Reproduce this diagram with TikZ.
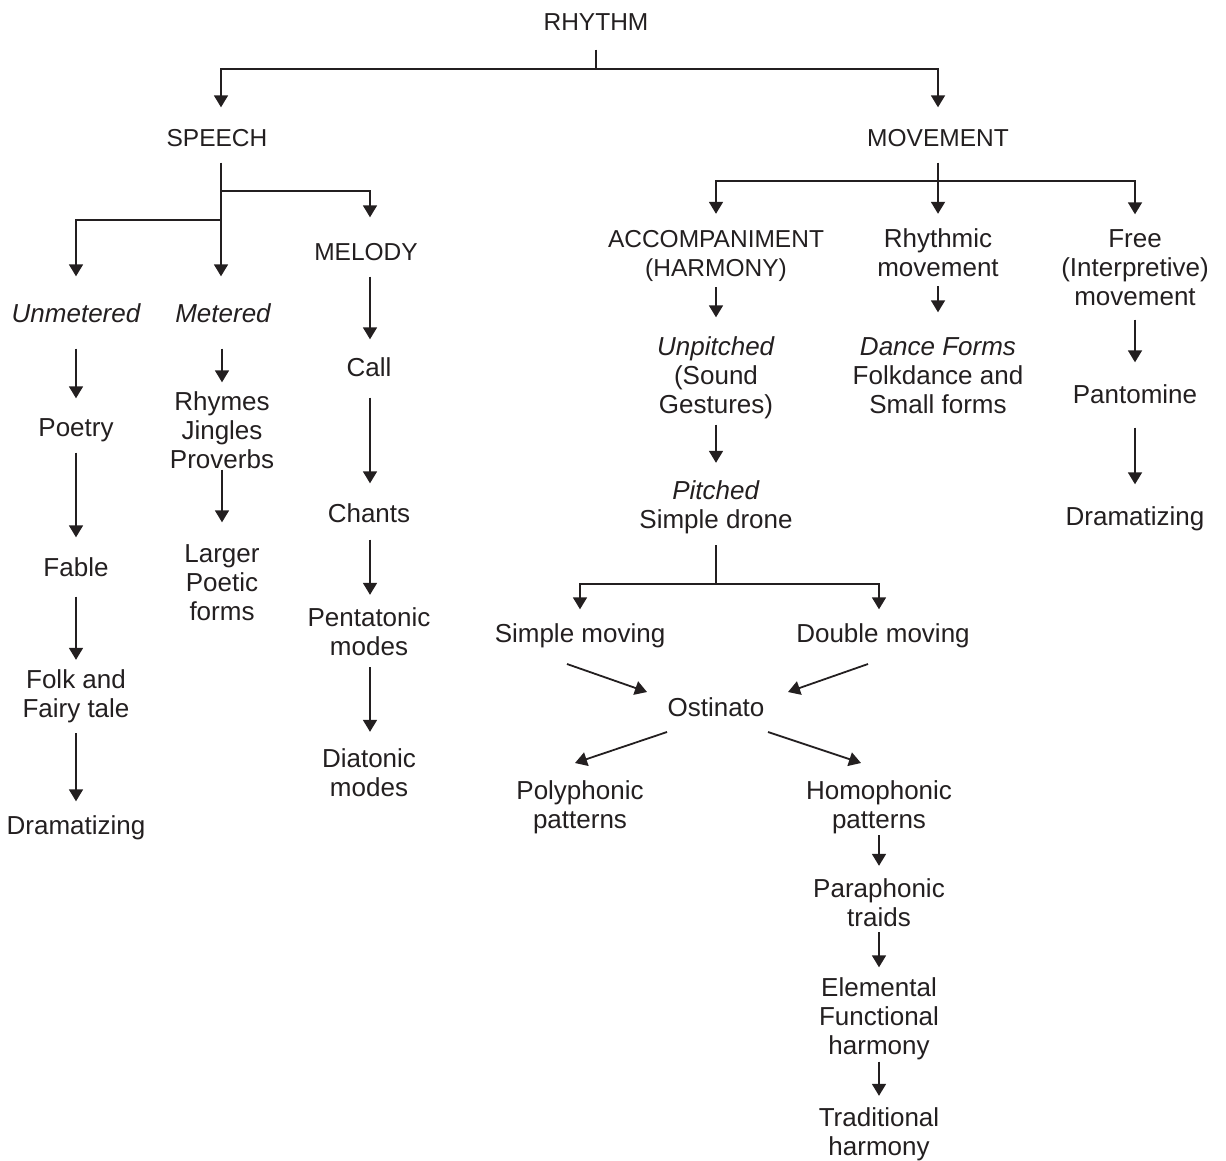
\documentclass[tikz,border=0pt]{standalone}
\usepackage{fontspec}
\setmainfont{Liberation Sans}
\usetikzlibrary{arrows.meta,calc}
\newcommand\fsL{\fontsize{26}{29}\selectfont}
\newcommand\fsU{\fontsize{24.5}{29}\selectfont}
\definecolor{ink}{HTML}{231F20}
\begin{document}
\begin{tikzpicture}[x=1pt,y=-1pt,
  lbl/.style={align=center, inner xsep=2pt, inner ysep=14pt, font=\fsL, text=ink},
  ulbl/.style={lbl, font=\fsU},
  ln/.style={draw=ink, line width=1.8pt},
  arr/.style={ln, -{Triangle[width=14pt,length=12pt]}}]
\useasboundingbox (0,0) rectangle (1226,1160);
% nodes
\node[ulbl] (rhythm)   at (596,25)  {\strut RHYTHM};
\node[ulbl] (speech)   at (217,141) {\strut SPEECH};
\node[ulbl] (movement) at (938,141) {\strut MOVEMENT};
\node[ulbl] (melody)   at (366,255) {\strut MELODY};
\node[lbl]  (unmetered) at (76,317) {\strut\itshape Unmetered};
\node[lbl]  (metered)  at (223,317) {\strut\itshape Metered};
\node[lbl]  (poetry)   at (76,431)  {\strut Poetry};
\node[lbl]  (fable)    at (76,571)  {\strut Fable};
\node[lbl]  (folk)     at (76,697)  {\strut Folk and\\\strut Fairy tale};
\node[lbl]  (dram1)    at (76,829)  {\strut Dramatizing};
\node[lbl]  (rhymes)   at (222,434) {\strut Rhymes\\\strut Jingles\\\strut Proverbs};
\node[lbl]  (larger)   at (222,586) {\strut Larger\\\strut Poetic\\\strut forms};
\node[lbl]  (call)     at (369,371) {\strut Call};
\node[lbl]  (chants)   at (369,517) {\strut Chants};
\node[lbl]  (penta)    at (369,635) {\strut Pentatonic\\\strut modes};
\node[lbl]  (diat)     at (369,776) {\strut Diatonic\\\strut modes};
\node[ulbl] (accomp)   at (716,256) {\strut ACCOMPANIMENT\\\strut (HARMONY)};
\node[lbl]  (rhythmic) at (938,256) {\strut Rhythmic\\\strut movement};
\node[lbl]  (free)     at (1135,271) {\strut Free\\\strut (Interpretive)\\\strut movement};
\node[lbl]  (unpitched) at (716,379) {\strut\textit{Unpitched}\\\strut (Sound\\\strut Gestures)};
\node[lbl]  (dance)    at (938,379) {\strut\textit{Dance Forms}\\\strut Folkdance and\\\strut Small forms};
\node[lbl]  (panto)    at (1135,398) {\strut Pantomine};
\node[lbl]  (dram2)    at (1135,520) {\strut Dramatizing};
\node[lbl]  (pitched)  at (716,508) {\strut\textit{Pitched}\\\strut Simple drone};
\node[lbl]  (simplem)  at (580,637) {\strut Simple moving};
\node[lbl]  (doublem)  at (883,637) {\strut Double moving};
\node[lbl]  (ostinato) at (716,711) {\strut Ostinato};
\node[lbl]  (poly)     at (580,808) {\strut Polyphonic\\\strut patterns};
\node[lbl]  (homo)     at (879,808) {\strut Homophonic\\\strut patterns};
\node[lbl]  (para)     at (879,906) {\strut Paraphonic\\\strut traids};
\node[lbl]  (elem)     at (879,1020) {\strut Elemental\\\strut Functional\\\strut harmony};
\node[lbl]  (trad)     at (879,1135) {\strut Traditional\\\strut harmony};
% junctions
\coordinate (r1) at (596,69);
\coordinate (s1) at (221,191);
\coordinate (s2) at (221,220);
\coordinate (m1) at (938,181);
\coordinate (d1) at (716,584);
% top level
\draw[ln] ([yshift=4pt]rhythm.south) -- (r1);
\draw[arr] (r1) -| ([xshift=4pt,yshift=5pt]speech.north);
\draw[arr] (r1) -| ([yshift=5pt]movement.north);
% speech branch
\draw[arr] ([xshift=4pt,yshift=7pt]speech.south) -- ([xshift=-2pt,yshift=12pt]metered.north);
\draw[arr] (s1) -| ([xshift=4pt,yshift=9pt]melody.north);
\draw[arr] (s2) -| ([yshift=12pt]unmetered.north);
\draw[arr] ([yshift=-3pt]unmetered.south) -- ([yshift=4pt]poetry.north);
\draw[arr] ([yshift=7pt]poetry.south) -- ([yshift=5pt]fable.north);
\draw[arr] ([yshift=3pt]fable.south) -- ([yshift=-6pt]folk.north);
\draw[arr] ([yshift=7pt]folk.south) -- ([yshift=-1pt]dram1.north);
\draw[arr] ([xshift=-1pt,yshift=-3pt]metered.south) -- ([yshift=-6pt]rhymes.north);
\draw[arr] ([yshift=22pt]rhymes.south) -- ([yshift=6pt]larger.north);
\draw[arr] ([xshift=4pt,yshift=7pt]melody.south) -- ([xshift=1pt,yshift=3pt]call.north);
\draw[arr] ([xshift=1pt,yshift=2pt]call.south) -- ([xshift=1pt,yshift=5pt]chants.north);
\draw[arr] ([xshift=1pt,yshift=6pt]chants.south) -- ([xshift=1pt,yshift=-3pt]penta.north);
\draw[arr] ([xshift=1pt,yshift=11pt]penta.south) -- ([xshift=1pt,yshift=1pt]diat.north);
% movement branch
\draw[arr] ([yshift=7pt]movement.south) -- ([yshift=-1pt]rhythmic.north);
\draw[arr] (m1) -| ([yshift=-1pt]accomp.north);
\draw[arr] (m1) -| ([yshift=-1pt]free.north);
\draw[arr] ([yshift=12pt]accomp.south) -- ([yshift=4pt]unpitched.north);
\draw[arr] ([yshift=13pt]rhythmic.south) -- ([yshift=9pt]dance.north);
\draw[arr] ([yshift=9pt]free.south) -- ([yshift=7pt]panto.north);
\draw[arr] ([yshift=-1pt]panto.south) -- ([yshift=7pt]dram2.north);
\draw[arr] ([yshift=12pt]unpitched.south) -- ([yshift=2pt]pitched.north);
\draw[ln] ([yshift=6pt]pitched.south) -- (d1);
\draw[arr] (d1) -| ([yshift=-1pt]simplem.north);
\draw[arr] (d1) -| ([xshift=-4pt,yshift=-1pt]doublem.north);
\draw[arr] ($(simplem)+(-13,27)$) -- ($(ostinato)+(-69,-19)$);
\draw[arr] ($(doublem)+(-15,27)$) -- ($(ostinato)+(72,-19)$);
\draw[arr] ($(ostinato)+(-49,21)$) -- ($(poly)+(-5,-45)$);
\draw[arr] ($(ostinato)+(52,21)$) -- ($(homo)+(-18,-45)$);
\draw[arr] ([yshift=16pt]homo.south) -- ([yshift=-3pt]para.north);
\draw[arr] ([yshift=17pt]para.south) -- ([yshift=-5pt]elem.north);
\draw[arr] ([yshift=16pt]elem.south) -- ([yshift=-4pt]trad.north);
\end{tikzpicture}
\end{document}
